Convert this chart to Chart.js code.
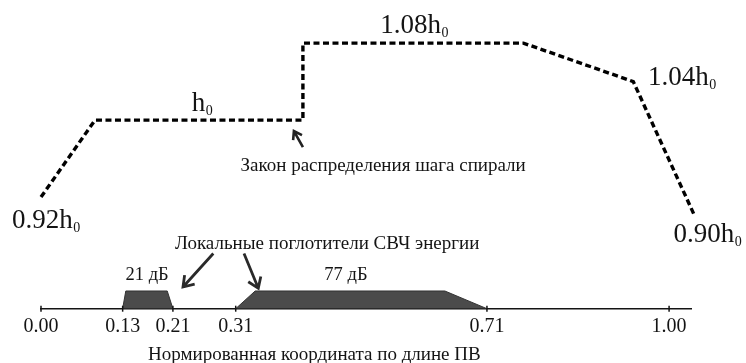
<!DOCTYPE html>
<html>
<head>
<meta charset="utf-8">
<style>
  html, body { margin: 0; padding: 0; background: #fff; }
  #wrap { width: 746px; height: 363px; }
</style>
<script src="https://cdn.jsdelivr.net/npm/chart.js@4.4.0/dist/chart.umd.min.js"></script>
</head>
<body>
<div id="wrap"><canvas id="c" width="746" height="363"></canvas></div>
<script>
// Helix pitch distribution along the slow-wave structure (units of h0)
const pitchX = [0.00, 0.086, 0.417, 0.417, 0.768, 0.943, 1.041];
const pitchH = [0.92, 1.00, 1.00, 1.08, 1.08, 1.04, 0.90];

// Local microwave absorbers: trapezoid outlines (relative height)
const absorber1X = [0.13, 0.135, 0.201, 0.21];
const absorber1H = [0, 1, 1, 0];
const absorber2X = [0.31, 0.341, 0.643, 0.71];
const absorber2H = [0, 1, 1, 0];
const absorberLoss = ['21 дБ', '77 дБ'];

// Axis ticks (normalized coordinate)
const tickValues = [0.00, 0.13, 0.21, 0.31, 0.71, 1.00];

// Pitch values written next to the curve
const pitchLabelValues = [0.92, 1.00, 1.08, 1.04, 0.90];

const SERIF = '"Liberation Serif", "Times New Roman", serif';
const INK = '#141414';

const toXY = (xs, ys) => xs.map((v, i) => ({ x: v, y: ys[i] }));

function drawPitchLabel(ctx, value, left, base) {
  const prefix = value === 1 ? '' : value.toFixed(2);
  ctx.font = '27px ' + SERIF;
  ctx.textAlign = 'left';
  ctx.textBaseline = 'alphabetic';
  ctx.fillText(prefix + 'h', left, base);
  const w = ctx.measureText(prefix + 'h').width;
  ctx.font = '14px ' + SERIF;
  ctx.fillText('0', left + w + 0.5, base + 4);
}

function drawArrow(ctx, x1, y1, x2, y2, head) {
  const a = Math.atan2(y2 - y1, x2 - x1);
  ctx.beginPath();
  ctx.moveTo(x1, y1);
  ctx.lineTo(x2, y2);
  ctx.moveTo(x2 - head * Math.cos(a - 0.6), y2 - head * Math.sin(a - 0.6));
  ctx.lineTo(x2, y2);
  ctx.lineTo(x2 - head * Math.cos(a + 0.6), y2 - head * Math.sin(a + 0.6));
  ctx.stroke();
}

const annotations = {
  id: 'annotations',
  afterDatasetsDraw(chart) {
    const { ctx } = chart;
    const { x, y, yA } = chart.scales;
    ctx.save();

    // tick marks crossing the axis line
    ctx.strokeStyle = INK;
    ctx.lineWidth = 1.5;
    tickValues.forEach(v => {
      const px = x.getPixelForValue(v);
      ctx.beginPath();
      ctx.moveTo(px, x.top - 3);
      ctx.lineTo(px, x.top + 3);
      ctx.stroke();
    });

    // pitch values beside the curve
    ctx.fillStyle = INK;
    const spots = [
      { x: -0.0462, dy: 31.2 },
      { x: 0.240, dy: -9 },
      { x: 0.540, dy: -10 },
      { x: 0.9666, dy: 3.4 },
      { x: 1.007, dy: 25.4 }
    ];
    pitchLabelValues.forEach((v, i) => {
      drawPitchLabel(ctx, v, x.getPixelForValue(spots[i].x), y.getPixelForValue(v) + spots[i].dy);
    });

    // curve caption and its pointer
    const jx = x.getPixelForValue(pitchX[2]);
    const jy = y.getPixelForValue(pitchH[2]);
    ctx.font = '19px ' + SERIF;
    ctx.textAlign = 'left';
    ctx.fillText('Закон распределения шага спирали', 240.5, 170.7);
    ctx.lineWidth = 2.6;
    ctx.strokeStyle = '#222';
    drawArrow(ctx, jx, jy + 27, jx - 9, jy + 11, 9);

    // absorber caption and pointers
    ctx.fillText('Локальные поглотители СВЧ энергии', 175, 249.3);
    ctx.lineWidth = 2.8;
    ctx.strokeStyle = '#2a2a2a';
    drawArrow(ctx, 213.3, 253.5, 183, 287, 12);
    drawArrow(ctx, 244, 253.5, 258.3, 288.3, 12);

    // attenuation of each absorber
    ctx.textAlign = 'center';
    ctx.font = '18.5px ' + SERIF;
    const lossY = yA.getPixelForValue(1) - 11;
    ctx.fillText(absorberLoss[0], x.getPixelForValue(0.169), lossY);
    ctx.fillText(absorberLoss[1], x.getPixelForValue(0.4855), lossY);

    // axis title
    ctx.font = '19px ' + SERIF;
    ctx.textAlign = 'left';
    ctx.fillText('Нормированная координата по длине ПВ', 148, 359.5);

    ctx.restore();
  }
};

new Chart(document.getElementById('c'), {
  type: 'line',
  data: {
    datasets: [
      {
        data: toXY(absorber1X, absorber1H),
        yAxisID: 'yA',
        borderColor: '#333',
        borderWidth: 1,
        backgroundColor: '#4b4b4b',
        fill: 'origin',
        pointRadius: 0,
        tension: 0
      },
      {
        data: toXY(absorber2X, absorber2H),
        yAxisID: 'yA',
        borderColor: '#333',
        borderWidth: 1,
        backgroundColor: '#4b4b4b',
        fill: 'origin',
        pointRadius: 0,
        tension: 0
      },
      {
        data: toXY(pitchX, pitchH),
        yAxisID: 'y',
        borderColor: '#000',
        borderWidth: 3.4,
        borderDash: [6, 3.5],
        borderCapStyle: 'butt',
        borderJoinStyle: 'miter',
        fill: false,
        pointRadius: 0,
        tension: 0,
        clip: false
      }
    ]
  },
  options: {
    responsive: false,
    animation: false,
    devicePixelRatio: 1,
    layout: { padding: { left: 41, right: 54.3, top: 20, bottom: 0 } },
    plugins: { legend: { display: false }, tooltip: { enabled: false } },
    scales: {
      x: {
        type: 'linear',
        min: 0,
        max: 1.036,
        afterBuildTicks: s => { s.ticks = tickValues.map(v => ({ value: v })); },
        afterFit: s => { s.height = 54.3; },
        ticks: {
          callback: v => Number(v).toFixed(2),
          font: { family: SERIF, size: 20 },
          color: INK,
          padding: 6,
          maxRotation: 0,
          autoSkip: false
        },
        grid: { display: false, drawTicks: false },
        border: { display: true, color: INK, width: 1.5 }
      },
      y: { display: false, min: 0.804, max: 1.104 },
      yA: { display: false, min: 0, max: 16.3 }
    }
  },
  plugins: [annotations]
});
</script>
</body>
</html>
